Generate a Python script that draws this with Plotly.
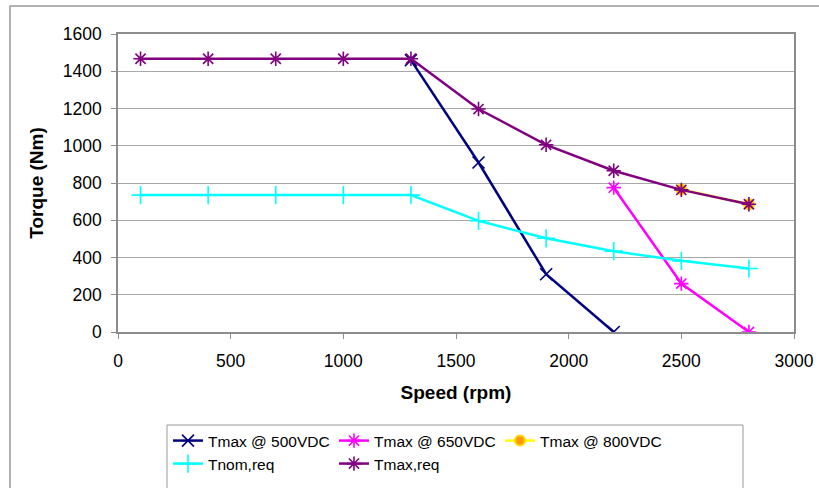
import plotly.graph_objects as go

# Speed points (rpm) for each curve
speed_req = [100, 400, 700, 1000, 1300, 1600, 1900, 2200, 2500, 2800]
speed_500 = [1300, 1600, 1900, 2200]
speed_650 = [2200, 2500, 2800]
speed_800 = [2500, 2800]

# Torque values (Nm)
tmax_500 = [1460, 910, 310, 0]
tmax_650 = [775, 260, 0]
tmax_800 = [765, 686]
tnom_req = [735, 735, 735, 735, 735, 597, 503, 434, 382, 341]
tmax_req = [1467, 1467, 1467, 1467, 1467, 1197, 1005, 866, 763, 686]

x_ticks = [0, 500, 1000, 1500, 2000, 2500, 3000]
y_ticks = [0, 200, 400, 600, 800, 1000, 1200, 1400, 1600]

W, H = 819, 488
L, R, T, B = 118, 25, 34, 156
PW, PH = W - L - R, H - T - B


def px_x(p):
    return (p - L) / PW


def px_y(p):
    return (H - B - p) / PH


FONT = "Liberation Sans, Arial, sans-serif"

fig = go.Figure()

fig.add_trace(go.Scatter(
    x=speed_500, y=tmax_500, name="Tmax @ 500VDC", mode="lines+markers", legend="legend",
    line=dict(color="#000080", width=2.5),
    marker=dict(symbol="x-thin-open", size=12, line=dict(color="#000080", width=1.6)),
))
fig.add_trace(go.Scatter(
    x=speed_650, y=tmax_650, name="Tmax @ 650VDC", mode="lines+markers", legend="legend",
    line=dict(color="#FF00FF", width=2.5),
    marker=dict(symbol="asterisk-open", size=12, line=dict(color="#FF00FF", width=1.6)),
))
fig.add_trace(go.Scatter(
    x=speed_800, y=tmax_800, name="Tmax @ 800VDC", mode="lines+markers", legend="legend",
    line=dict(color="#FFFF00", width=2.5),
    marker=dict(symbol="circle", size=10, color="#FF9900", line=dict(color="#FFD700", width=2)),
))
fig.add_trace(go.Scatter(
    x=speed_req, y=tnom_req, name="Tnom,req", mode="lines+markers", legend="legend2",
    line=dict(color="#00FFFF", width=2.5),
    marker=dict(symbol="cross-thin-open", size=13, line=dict(color="#00FFFF", width=1.6)),
))
fig.add_trace(go.Scatter(
    x=speed_req, y=tmax_req, name="Tmax,req", mode="lines+markers", legend="legend2",
    line=dict(color="#800080", width=2.5),
    marker=dict(symbol="asterisk-open", size=12, line=dict(color="#800080", width=1.6)),
))

# Outer chart border and legend box
fig.add_shape(type="rect", xref="paper", yref="paper",
              x0=px_x(10), x1=px_x(840), y0=px_y(520), y1=px_y(6),
              line=dict(color="#9A9A9A", width=1.5), fillcolor="rgba(0,0,0,0)", layer="below")
fig.add_shape(type="rect", xref="paper", yref="paper",
              x0=px_x(167), x1=px_x(743), y0=px_y(500), y1=px_y(425),
              line=dict(color="#9A9A9A", width=1), fillcolor="rgba(0,0,0,0)")

legend_common = dict(
    orientation="h", xanchor="left", yanchor="top",
    entrywidth=121, itemwidth=30, font=dict(size=15.5, family=FONT),
    bgcolor="rgba(0,0,0,0)", borderwidth=0, tracegroupgap=0,
)

fig.update_layout(
    width=W, height=H,
    margin=dict(l=L, r=R, t=T, b=B, autoexpand=False),
    paper_bgcolor="white", plot_bgcolor="white",
    font=dict(family=FONT, size=16, color="black"),
    showlegend=True,
    legend=dict(x=px_x(168), y=px_y(424), **legend_common),
    legend2=dict(x=px_x(168), y=px_y(447), **legend_common),
    xaxis=dict(
        range=[0, 3000], tickvals=x_ticks, ticktext=[str(v) for v in x_ticks],
        showgrid=False, showline=True, linecolor="#8C8C8C", linewidth=1.5, mirror=True,
        ticks="outside", ticklen=5, tickcolor="#8C8C8C", ticklabelstandoff=7,
        tickfont=dict(size=17.5, family=FONT), zeroline=False,
        title=dict(text="<b>Speed (rpm)</b>", font=dict(size=19, family=FONT), standoff=16),
    ),
    yaxis=dict(
        range=[0, 1600], tickvals=y_ticks, ticktext=[str(v) for v in y_ticks],
        showgrid=True, gridcolor="#A8A8A8", gridwidth=1,
        showline=True, linecolor="#8C8C8C", linewidth=1.5, mirror=True,
        ticks="outside", ticklen=5, tickcolor="#8C8C8C", ticklabelstandoff=6,
        tickfont=dict(size=17.5, family=FONT), zeroline=False,
        title=dict(text="<b>Torque (Nm)</b>", font=dict(size=19, family=FONT), standoff=14),
    ),
)

fig.write_html("out.html")
